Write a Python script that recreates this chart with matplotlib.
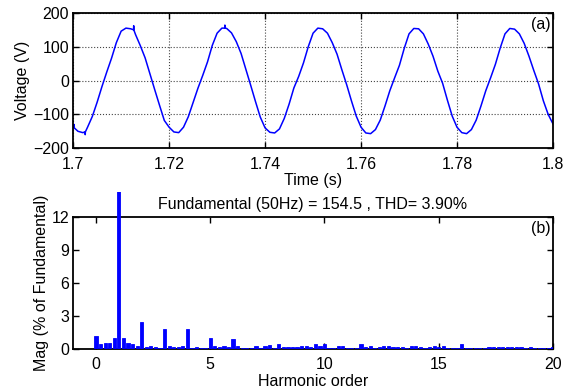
import numpy as np
import matplotlib
matplotlib.use("Agg")
import matplotlib.pyplot as plt
from matplotlib.patches import Rectangle

plt.rcParams['font.family'] = ['Liberation Sans', 'DejaVu Sans']
plt.rcParams['font.size'] = 11.5

t_ms = np.arange(0, 101)
volts = [
    -135, -150, -154, -138, -106, -64, -18, 25, 66, 112,
    146, 155, 153, 136, 103, 67, 20, -27, -73, -118,
    -138, -152, -154, -138, -107, -65, -23, 15, 55, 104,
    140, 155, 154, 141, 115, 80, 33, -14, -62, -108,
    -140, -153, -155, -143, -112, -70, -22, 12, 52, 100,
    140, 155, 153, 140, 112, 78, 32, -12, -60, -105,
    -138, -155, -157, -145, -117, -75, -30, 8, 45, 95,
    138, 154, 153, 138, 108, 72, 28, -8, -58, -105,
    -138, -154, -157, -145, -117, -75, -30, 8, 48, 96,
    138, 154, 152, 138, 110, 72, 30, -10, -60, -100,
    -128,
]
# small switching spikes on the trace: time, trace level, spike tip
spike_ms = [0.2, 2.5, 12.6, 31.6]
spike_base = [-140, -152, 150, 155]
spike_tip = [-130, -160, 162, 164]

# Harmonic spectrum, 10 Hz resolution (0.2 harmonic steps), % of fundamental.
harm_order = np.round(np.arange(0, 20.01, 0.2), 1)
harm_mag = [
    1.15, 0.45, 0.55, 0.6, 1.05, 100, 0.97, 0.55, 0.45, 0.32,
    2.5, 0.2, 0.28, 0.2, 0.15, 1.8, 0.32, 0.2, 0.2, 0.32,
    1.8, 0.15, 0.2, 0.15, 0.15, 1.05, 0.28, 0.2, 0.28, 0.2,
    0.9, 0.28, 0.15, 0.15, 0.15, 0.32, 0.15, 0.28, 0.38, 0.15,
    0.5, 0.2, 0.2, 0.2, 0.2, 0.28, 0.28, 0.2, 0.5, 0.28,
    0.5, 0.15, 0.15, 0.28, 0.28, 0.15, 0.15, 0.15, 0.5, 0.2,
    0.32, 0.15, 0.2, 0.28, 0.28, 0.2, 0.2, 0.2, 0.15, 0.28,
    0.32, 0.2, 0.15, 0.18, 0.32, 0.2, 0.25, 0.15, 0.15, 0.15,
    0.45, 0.15, 0.15, 0.15, 0.15, 0.15, 0.18, 0.18, 0.18, 0.18,
    0.2, 0.18, 0.18, 0.18, 0.15, 0.2, 0.15, 0.15, 0.15, 0.15,
    0.18,
]
title_b = "Fundamental (50Hz) = 154.5 , THD= 3.90%"

# merge spikes into the trace as narrow vertical ticks
tt = list(t_ms)
vv = list(volts)
for ts, vb, vt in zip(spike_ms, spike_base, spike_tip):
    tt += [ts, ts + 0.02, ts + 0.04]
    vv += [vb, vt, vb]
tt = np.array(tt, dtype=float)
vv = np.array(vv, dtype=float)
order = np.argsort(tt, kind='stable')
time_s = 1.7 + tt[order] / 1000.0
vv = vv[order]

fig = plt.figure(figsize=(5.76, 3.91), dpi=100)
ax1 = fig.add_axes([0.127, 0.621, 0.833, 0.346])
ax2 = fig.add_axes([0.127, 0.107, 0.833, 0.338])

def style(ax):
    for s in ax.spines.values():
        s.set_linewidth(1.3)
    ax.tick_params(direction='in', length=4, width=1, top=True, right=True)
    ax.tick_params(axis='x', pad=6)
    ax.tick_params(axis='y', pad=3)

# (a) voltage
ax1.plot(time_s, vv, color='#0000ff', lw=1.1)
ax1.set_xlim(1.7, 1.8)
ax1.set_ylim(-200, 200)
ax1.set_xticks([1.7, 1.72, 1.74, 1.76, 1.78, 1.8])
ax1.set_xticklabels(['1.7', '1.72', '1.74', '1.76', '1.78', '1.8'])
ax1.set_yticks([-200, -100, 0, 100, 200])
ax1.grid(True, linestyle=':', color='#444444', lw=0.8)
ax1.set_xlabel("Time (s)", labelpad=1)
ax1.set_ylabel("Voltage (V)", labelpad=2)
ax1.text(0.995, 0.97, "(a)", transform=ax1.transAxes, ha='right', va='top')
style(ax1)

# (b) spectrum
bars = ax2.bar(harm_order, harm_mag, width=0.14, color='#0000ff',
               edgecolor='#0000ff', linewidth=0.6, zorder=3)
ax2.set_xlim(-1, 20)
ax2.set_ylim(0, 12)
ax2.set_xticks([0, 5, 10, 15, 20])
ax2.set_yticks([0, 3, 6, 9, 12])
ax2.set_xlabel("Harmonic order", labelpad=1)
ax2.set_ylabel("Mag (% of Fundamental)", labelpad=2)
ax2.text(0.995, 0.97, "(b)", transform=ax2.transAxes, ha='right', va='top')
ax2.set_title(title_b, fontsize=11.5, pad=6)
clip = Rectangle((-1, 0), 21, 14.3, transform=ax2.transData)
for b in bars:
    b.set_clip_on(True)
    b.set_clip_path(clip)
style(ax2)

fig.savefig("out.png", dpi=100)
